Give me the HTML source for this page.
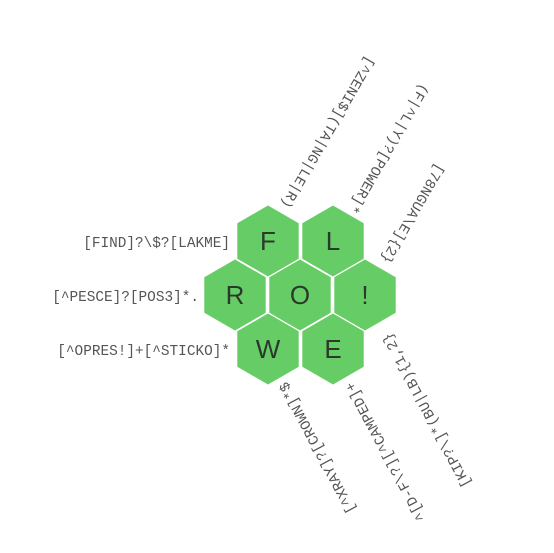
<!DOCTYPE html>
<html><head><meta charset="utf-8"><style>
html,body{margin:0;padding:0;background:#fff}
svg{display:block}
.lbl{font-family:"Liberation Mono",monospace;font-size:14.4px;fill:#555}
.let{font-family:"Liberation Sans",sans-serif;font-size:26px;fill:#2a3a2a;text-anchor:middle;dominant-baseline:central}
</style></head><body>
<svg id="c" width="554" height="553"></svg>
<script>
const cellLetters = ["F","L","R","O","!","W","E"];
const cellCenters = [[268,241],[333,241],[235,295],[300,295],[365,295],[268,349],[333,349]];
const leftClues = ["[FIND]?\\$?[LAKME]","[^PESCE]?[POS3]*.","[^OPRES!]+[^STICKO]*"];
const topClues = ["[^ZENI$](TA|NG|LE|R)","(F|^L|Y)?[POWER]*","[78NGUA\\E]{2}"];
const bottomClues = ["[^XRAY]?[CROWN]*$","^[D-F\\?][^CAMPED]+","[KIP?\\]*(BU|LB){1,2}"];
const NS="http://www.w3.org/2000/svg";
const svg=document.getElementById('c');
function mk(t,a){const e=document.createElementNS(NS,t);for(const k in a)e.setAttribute(k,a[k]);svg.appendChild(e);return e;}
const r=35.5;
cellLetters.forEach((L,i)=>{
  const [cx,cy]=cellCenters[i];
  let pts=[];
  for(let k=0;k<6;k++){const a=Math.PI/180*(60*k-90);pts.push((cx+r*Math.cos(a)).toFixed(1)+","+(cy+r*Math.sin(a)).toFixed(1));}
  const p=mk('polygon',{points:pts.join(' '),fill:'#66cc66'});
  
  
  const t=mk('text',{x:cx,y:cy,class:'let'});t.textContent=L;
  
  
});
const leftPos=[[230,242],[199,296],[230,350]];
leftClues.forEach((s,i)=>{
  const t=mk('text',{x:leftPos[i][0],y:leftPos[i][1]+5,class:'lbl','text-anchor':'end'});t.textContent=s;
  
  
});
const topEnd=[[281,205],[348,210],[381,260]];
topClues.forEach((s,i)=>{
  const [x,y]=topEnd[i];
  const t=mk('text',{x:x,y:y,class:'lbl','text-anchor':'end',transform:`rotate(120 ${x} ${y})`});t.textContent=s;
  
  
});
const botEnd=[[287,381],[353,381],[390,332]];
bottomClues.forEach((s,i)=>{
  const [x,y]=botEnd[i];
  const t=mk('text',{x:x,y:y,class:'lbl','text-anchor':'end',transform:`rotate(-118 ${x} ${y})`});t.textContent=s;
  
  
});
</script>
</body></html>
